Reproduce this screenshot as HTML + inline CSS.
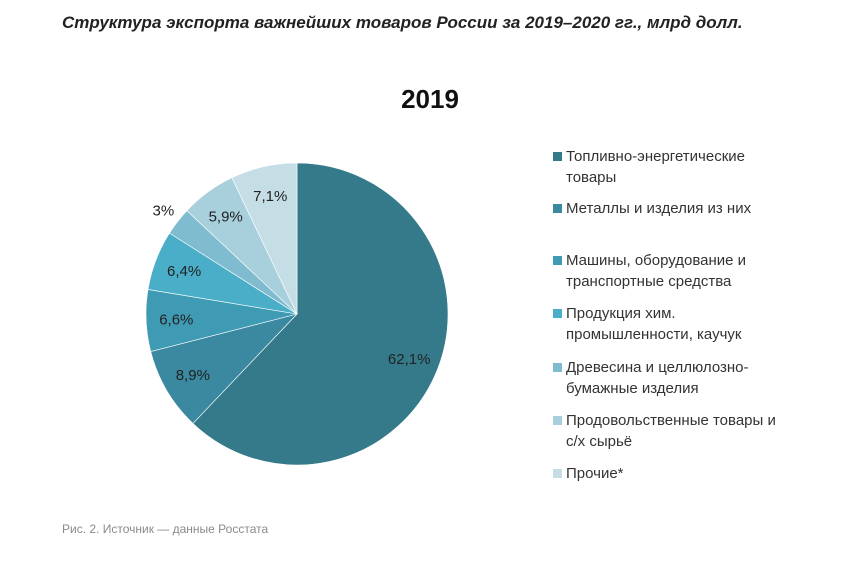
<!DOCTYPE html>
<html><head><meta charset="utf-8"><style>
body{margin:0;width:858px;height:576px;background:#fff;font-family:"Liberation Sans","Noto Sans CJK SC",sans-serif;position:relative;overflow:hidden}
.h{position:absolute;left:62px;top:13px;font-size:17px;font-style:italic;font-weight:bold;color:#222}
.cap{position:absolute;left:62px;top:522px;font-size:12px;color:#8a8a8a}
.lg{position:absolute;left:553px;font-size:15px;color:#333;line-height:21px}
.lg span.sq{position:absolute;left:0;top:6px;width:9px;height:9px}
.lg div.t{margin-left:13px}
</style></head><body>
<div class="h">Структура экспорта важнейших товаров России за 2019–2020 гг., млрд долл.</div>
<svg id="chart" width="858" height="576" style="position:absolute;left:0;top:0">
<text x="430" y="108" text-anchor="middle" font-size="26" font-weight="bold" fill="#111" font-family="Liberation Sans, sans-serif">2019</text>
<g id="slices"></g><g id="labels"></g>
</svg>
<div id="legend"></div>
<div class="cap">Рис. 2. Источник — данные Росстата</div>
<script>
const categories=["Топливно-энергетические товары","Металлы и изделия из них","Машины, оборудование и транспортные средства","Продукция хим. промышленности, каучук","Древесина и целлюлозно-бумажные изделия","Продовольственные товары и с/х сырьё","Прочие*"];
const values=[62.1,8.9,6.6,6.4,3,5.9,7.1];
const valueLabels=["62,1%","8,9%","6,6%","6,4%","3%","5,9%","7,1%"];
const colors=["#357a8a","#3a89a0","#3f9bb3","#4aaec8","#7fbccf","#a7cfdc","#c5dee6"];
const legendLines=[["Топливно-энергетические","товары"],["Металлы и изделия из них"],["Машины, оборудование и","транспортные средства"],["Продукция хим.","промышленности, каучук"],["Древесина и целлюлозно-","бумажные изделия"],["Продовольственные товары и","с/х сырьё"],["Прочие*"]];
const legendTops=[146,198,250,303,357,410,463];
const cx=297,cy=314,R=151,NS="http://www.w3.org/2000/svg";
const total=values.reduce((a,b)=>a+b,0);
function pt(frac,r){const a=frac*2*Math.PI;return [cx+r*Math.sin(a),cy-r*Math.cos(a)];}
let acc=0;
const gS=document.getElementById('slices'),gL=document.getElementById('labels');
values.forEach((v,i)=>{
  const s=acc/total,e=(acc+v)/total;acc+=v;
  const p0=pt(s,R),p1=pt(e,R),large=(e-s)>0.5?1:0;
  const p=document.createElementNS(NS,'path');
  p.setAttribute('d',`M${cx},${cy}L${p0[0]},${p0[1]}A${R},${R} 0 ${large} 1 ${p1[0]},${p1[1]}Z`);
  p.setAttribute('fill',colors[i]);p.setAttribute('stroke','#fff');p.setAttribute('stroke-width','0.6');
  
  
  gS.appendChild(p);
  const m=(s+e)/2;const lr=(v/total<0.04)?R*1.12:R*0.8;const lp=pt(m,lr);
  const t=document.createElementNS(NS,'text');
  t.setAttribute('x',lp[0]);t.setAttribute('y',lp[1]+5);t.setAttribute('text-anchor','middle');
  t.setAttribute('font-size','15');t.setAttribute('fill','#222');t.setAttribute('font-family','Liberation Sans, sans-serif');
  t.textContent=valueLabels[i];
  
  
  gL.appendChild(t);
});
const lg=document.getElementById('legend');
legendLines.forEach((ln,i)=>{
  const d=document.createElement('div');d.className='lg';d.style.top=legendTops[i]+'px';
  
  
  d.innerHTML=`<span class="sq" style="background:${colors[i]}"></span><div class="t">${ln.join('<br>')}</div>`;
  lg.appendChild(d);
});
</script>
</body></html>
